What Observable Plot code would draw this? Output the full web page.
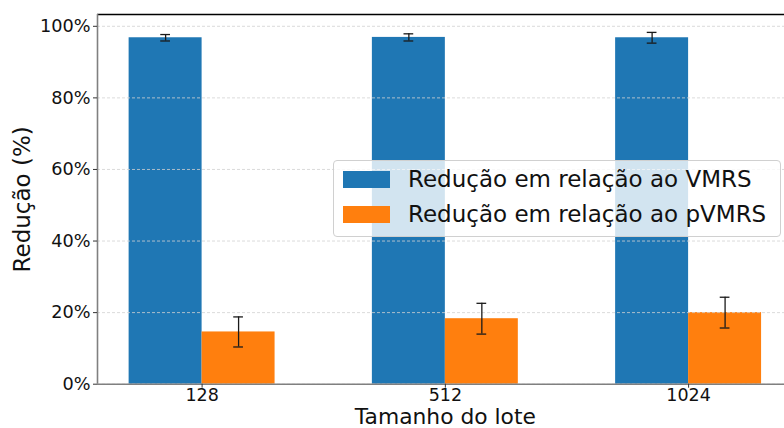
<!DOCTYPE html>
<html>
<head>
<meta charset="utf-8">
<script src="https://cdn.jsdelivr.net/npm/d3@7"></script>
<script src="https://cdn.jsdelivr.net/npm/@observablehq/plot@0.6"></script>
<style>
  html, body { margin: 0; padding: 0; background: #fff; }
  #wrap { position: relative; width: 784px; height: 428px; overflow: hidden; font-family: "DejaVu Sans", sans-serif; }
  #legend { position: absolute; left: 333px; top: 160px; width: 446px; height: 75px;
    background: rgba(255,255,255,0.8); border: 1px solid #d0d0d0; border-radius: 4px; }
  .item { position: absolute; left: 0; height: 30px; }
  .sw { position: absolute; left: 9px; width: 47px; height: 17px; }
  .lab { position: absolute; left: 74px; font-size: 23px; color: #111; white-space: nowrap; line-height: 1; }
</style>
</head>
<body>
<div id="wrap"></div>
<script>
const categories = ["128", "512", "1024"];
const vmrs = [96.8, 96.9, 96.8];
const vmrsErr = [0.9, 1.0, 1.5];
const pvmrs = [14.6, 18.3, 20.0];
const pvmrsErr = [4.2, 4.3, 4.3];
const yTicks = [0, 20, 40, 60, 80, 100];
const seriesNames = ["Redução em relação ao VMRS", "Redução em relação ao pVMRS"];
const colors = ["#1f77b4", "#ff7f0e"];

const barW = 0.3;
const rows = [];
categories.forEach((c, i) => {
  rows.push({i, s: 0, v: vmrs[i], e: vmrsErr[i]});
  rows.push({i, s: 1, v: pvmrs[i], e: pvmrsErr[i]});
});
const left = d => d.s === 0 ? d.i - barW : d.i;
const right = d => d.s === 0 ? d.i : d.i + barW;
const mid = d => d.s === 0 ? d.i - barW / 2 : d.i + barW / 2;

const xDom = [-0.43, categories.length - 1 + 0.43];
const yDom = [0, 103.3];

const chart = Plot.plot({
  width: 784,
  height: 428,
  marginLeft: 97,
  marginRight: 0,
  marginTop: 14,
  marginBottom: 44.3,
  style: {fontFamily: "DejaVu Sans, sans-serif", background: "white", overflow: "visible"},
  x: {domain: xDom, range: [97, 792.7], axis: null, label: null},
  y: {domain: yDom, axis: null, label: null},
  marks: [
    Plot.rectY(rows, {x1: left, x2: right, y1: 0, y2: d => d.v, fill: d => colors[d.s]}),
    Plot.ruleY(yTicks, {stroke: "#d2d2d2", strokeWidth: 0.8, strokeDasharray: "3,2"}),
    Plot.ruleX(rows, {x: mid, y1: d => d.v - d.e, y2: d => d.v + d.e, stroke: "#1a1a1a", strokeWidth: 1.3}),
    Plot.ruleY(rows, {y: d => d.v - d.e, x1: d => mid(d) - 0.02, x2: d => mid(d) + 0.02, stroke: "#1a1a1a", strokeWidth: 1.3}),
    Plot.ruleY(rows, {y: d => d.v + d.e, x1: d => mid(d) - 0.02, x2: d => mid(d) + 0.02, stroke: "#1a1a1a", strokeWidth: 1.3}),
    Plot.ruleY([yDom[1]], {stroke: "#000", strokeWidth: 1.3}),
    Plot.ruleY([0], {stroke: "#808080", strokeWidth: 1.6}),
    Plot.ruleX([xDom[0]], {stroke: "#808080", strokeWidth: 1.6}),
    Plot.axisY(yTicks, {tickFormat: d => d + "%", fontSize: 17.7, tickSize: 4, tickPadding: 3, stroke: "#333", fill: "#111", label: null}),
    Plot.axisX(categories.map((c, i) => i), {tickFormat: i => categories[i], fontSize: 17.5, tickSize: 4, tickPadding: 0, stroke: "#333", fill: "#111", label: null}),
    Plot.text(["Tamanho do lote"], {frameAnchor: "bottom", dy: 44.3 - 5, x: d => (xDom[0] + xDom[1]) / 2, fontSize: 21.8, fill: "#111", lineAnchor: "bottom"}),
    Plot.text(["Redução (%)"], {frameAnchor: "left", dx: -97 + 22, rotate: -90, fontSize: 23, fill: "#111", textAnchor: "middle"})
  ]
});
const wrap = document.getElementById("wrap");
wrap.appendChild(chart);

const lg = document.createElement("div");
lg.id = "legend";
seriesNames.forEach((n, k) => {
  const it = document.createElement("div");
  it.className = "item";
  it.style.top = (k === 0 ? 0 : 35) + "px";
  const sw = document.createElement("div");
  sw.className = "sw";
  sw.style.background = colors[k];
  sw.style.top = "10px";
  const lab = document.createElement("div");
  lab.className = "lab";
  lab.style.top = "7px";
  lab.textContent = n;
  it.appendChild(sw);
  it.appendChild(lab);
  lg.appendChild(it);
});
wrap.appendChild(lg);
</script>
</body>
</html>
